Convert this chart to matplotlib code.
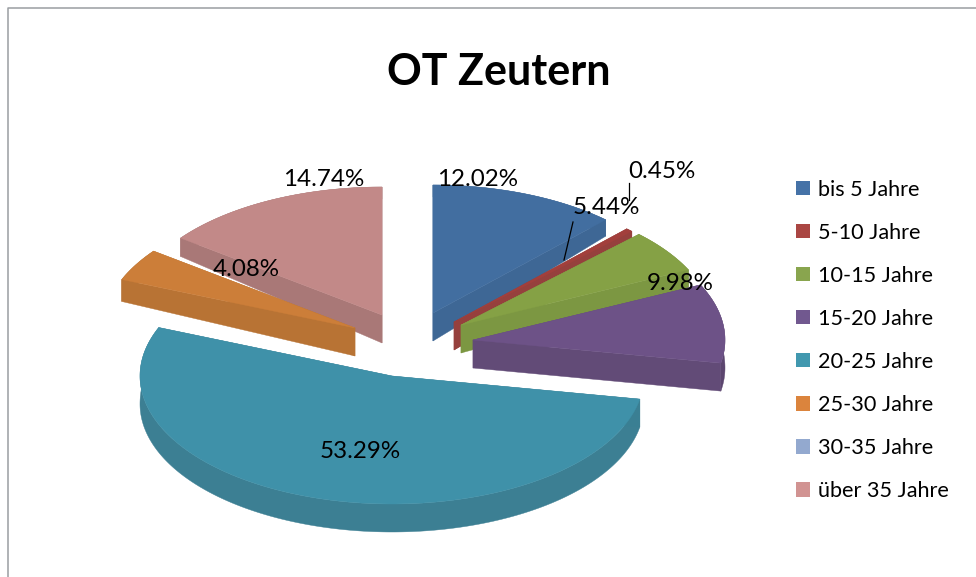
import numpy as np
import matplotlib
matplotlib.use("Agg")
import matplotlib.pyplot as plt
from matplotlib.patches import Polygon, Patch

# ---- data ----
title = "OT Zeutern"
categories = ["bis 5 Jahre", "5-10 Jahre", "10-15 Jahre", "15-20 Jahre",
              "20-25 Jahre", "25-30 Jahre", "30-35 Jahre", "über 35 Jahre"]
values = [12.02, 0.45, 5.44, 9.98, 53.29, 4.08, 0.0, 14.74]
value_labels = ["12.02%", "0.45%", "5.44%", "9.98%", "53.29%", "4.08%", None, "14.74%"]

# ---- styles / layout (pixels of the 976x577 canvas) ----
legend_colors = ["#4572A7", "#AA4643", "#89A54E", "#71588F",
                 "#4198AF", "#DB843D", "#93A9CF", "#D19392"]
top_colors = ["#426EA0", "#A23F3C", "#85A145", "#6D5287",
              "#3F91A9", "#CC7E39", "#93A9CF", "#C28988"]
cut_colors = ["#3E6795", "#96403D", "#7C9742", "#624B77",
              "#3A7F93", "#B87334", "#8599BC", "#A97877"]
rim_colors = ["#3C6390", "#8F3A38", "#748D3D", "#5C466F",
              "#3C7F93", "#AC6A2E", "#8599BC", "#A07170"]
apexes = [(433, 313), (454, 322), (461, 325), (473, 340),
          (392, 376), (355, 328), (382, 315), (382, 315)]
label_pos = [(478, 180), (662, 171), (606, 208), (680, 283),
             (360, 452), (246, 269), None, (324, 179)]
leaders = [((629, 183), (629, 200)), ((573, 222), (564, 260))]
draw_order = [0, 1, 2, 3, 7, 5, 4]
RX, RY, DEPTH, BACK_LOSS = 252, 128, 28, 16

fig = plt.figure(figsize=(9.76, 5.77), dpi=100)
ax = fig.add_axes([0, 0, 1, 1])
ax.set_xlim(0, 976)
ax.set_ylim(577, 0)
ax.axis("off")

# chart frame: only top and left edges fall inside the picture
ax.plot([8, 8, 976], [577, 8, 8], color="#9A9EA2", lw=1.1, solid_capstyle="butt")


def rim(apex, theta):
    t = np.radians(theta)
    return apex[0] + RX * np.sin(t), apex[1] - RY * np.cos(t)


def depth(theta):
    return DEPTH - BACK_LOSS * max(0.0, np.cos(np.radians(theta)))


cum = np.concatenate([[0], np.cumsum(values)]) / np.sum(values) * 360

for i in draw_order:
    a0, a1 = cum[i], cum[i + 1]
    apex = apexes[i]
    th = np.linspace(a0, a1, max(int(a1 - a0) * 2, 4))
    outer = np.array([rim(apex, t) for t in th])
    d = np.array([depth(t) for t in th])
    lower = outer + np.column_stack([np.zeros_like(d), d])
    ax.add_patch(Polygon(np.vstack([outer, lower[::-1]]), fc=rim_colors[i], ec=rim_colors[i], lw=0.3))
    for t, out in ((a0, outer[0]), (a1, outer[-1])):
        dd = depth(t)
        quad = [apex, out, (out[0], out[1] + dd), (apex[0], apex[1] + DEPTH)]
        ax.add_patch(Polygon(quad, fc=cut_colors[i], ec=cut_colors[i], lw=0.3))
    ax.add_patch(Polygon(np.vstack([[apex], outer]), fc=top_colors[i], ec=top_colors[i], lw=0.3))

for (p, q) in leaders:
    ax.plot([p[0], q[0]], [p[1], q[1]], color="black", lw=0.9)

for txt, pos in zip(value_labels, label_pos):
    if txt:
        ax.text(pos[0], pos[1], txt, ha="center", va="center", fontsize=17.4,
                family="Lato", color="black")

ax.text(499, 72, title, ha="center", va="center", fontsize=31, family="Lato",
        fontweight="bold", color="black")

handles = [Patch(fc=c, ec="none", label=n) for c, n in zip(legend_colors, categories)]
leg = ax.legend(handles=handles, loc="upper left", bbox_to_anchor=(789 / 976, 1 - 173 / 577),
                frameon=False, prop={"family": "Lato", "size": 15.6},
                handlelength=0.66, handleheight=0.66, handletextpad=0.37,
                labelspacing=1.065, borderpad=0.3, borderaxespad=0)

fig.savefig("out.png", dpi=100, facecolor="white")
